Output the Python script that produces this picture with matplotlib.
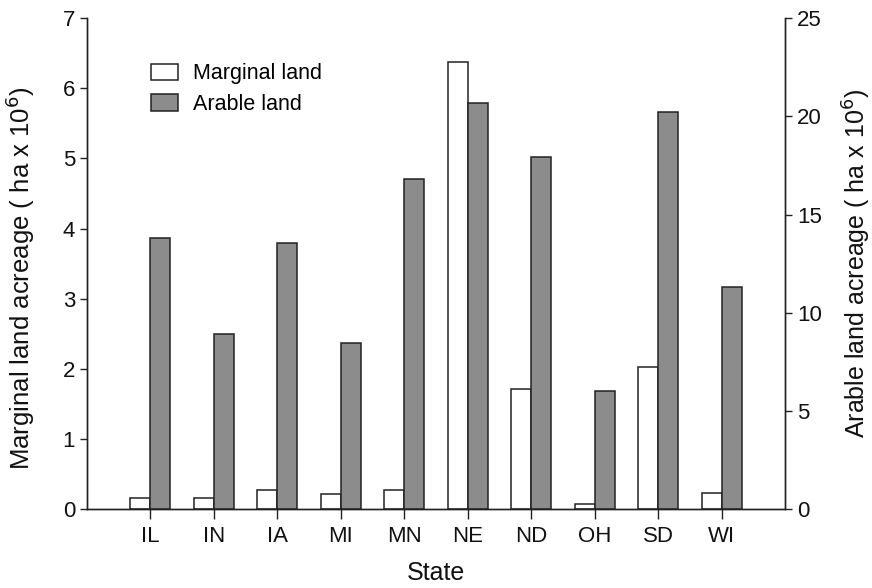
import matplotlib
matplotlib.use("Agg")
import matplotlib.pyplot as plt
import numpy as np

plt.rcParams['font.family'] = ['Liberation Sans', 'DejaVu Sans']

states = ["IL", "IN", "IA", "MI", "MN", "NE", "ND", "OH", "SD", "WI"]
marginal = [0.15, 0.16, 0.27, 0.22, 0.27, 6.37, 1.71, 0.07, 2.02, 0.23]
arable = [13.8, 8.9, 13.55, 8.45, 16.8, 20.7, 17.95, 6.0, 20.2, 11.3]

fig = plt.figure(figsize=(8.72, 5.88), dpi=100)
ax = fig.add_axes([0.0998, 0.1344, 0.8004, 0.8346])
ax2 = ax.twinx()

x = np.arange(1, len(states) + 1)
w = 0.315
gray = "#8c8c8c"

b1 = ax.bar(x - w / 2, marginal, width=w, color="white", edgecolor="#222222", linewidth=1.1)
b2 = ax2.bar(x + w / 2, arable, width=w, color=gray, edgecolor="#222222", linewidth=1.1)

ax.set_xlim(0, 11)
ax.set_ylim(0, 7)
ax2.set_ylim(0, 25)
ax.set_xticks(x)
ax.set_xticklabels(states)
ax.set_yticks(range(0, 8))
ax2.set_yticks(range(0, 26, 5))

for a in (ax, ax2):
    a.spines['top'].set_visible(False)
    for s in a.spines.values():
        s.set_linewidth(1.0)
        s.set_color("#222222")
    a.tick_params(direction='out', length=5, width=1.0, colors="#222222", labelsize=16, labelcolor="#111111")
ax.tick_params(axis='x', length=7, pad=5)

ax.set_xlabel("State", fontsize=18, color="#111111", labelpad=10)
ax.set_ylabel("Marginal land acreage ( ha x 10$^{6}$)", fontsize=18.5, color="#111111")
ax2.set_ylabel("Arable land acreage ( ha x 10$^{6}$)", fontsize=18, color="#111111", labelpad=14)
ax.yaxis.set_label_coords(-0.072, 0.47)

ax.legend([b1, b2], ["Marginal land", "Arable land"], loc='upper left',
          bbox_to_anchor=(0.092, 0.908), frameon=False, fontsize=15.5,
          borderaxespad=0, borderpad=0,
          handlelength=1.25, handleheight=0.8, handletextpad=0.68, labelspacing=0.44)

fig.savefig("out.png", dpi=100, facecolor="white")
